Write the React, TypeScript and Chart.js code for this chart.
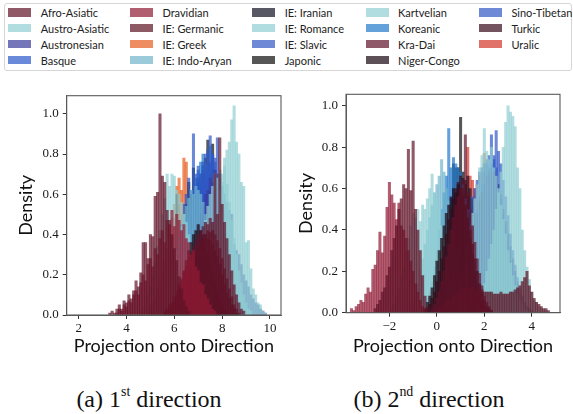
import React, { useEffect, useRef } from 'react';
import { Chart, registerables } from 'chart.js';

Chart.register(...registerables);

// ---------------- DATA ----------------
const FAMILIES = [
  'Afro-Asiatic', 'Austro-Asiatic', 'Austronesian', 'Basque', 'Dravidian',
  'IE: Germanic', 'IE: Greek', 'IE: Indo-Aryan', 'IE: Iranian', 'IE: Romance',
  'IE: Slavic', 'Japonic', 'Kartvelian', 'Koreanic', 'Kra-Dai',
  'Niger-Congo', 'Sino-Tibetan', 'Turkic', 'Uralic',
];

const COLORS = [
  'rgba(95,19,39,0.7)', 'rgba(146,206,211,0.7)', 'rgba(59,59,156,0.7)', 'rgba(42,88,199,0.7)', 'rgba(144,25,52,0.7)',
  'rgba(92,19,36,0.7)', 'rgba(231,92,31,0.7)', 'rgba(112,181,204,0.7)', 'rgba(17,15,34,0.7)', 'rgba(146,206,211,0.7)',
  'rgba(48,88,196,0.7)', 'rgba(14,14,14,0.7)', 'rgba(146,206,211,0.7)', 'rgba(34,121,202,0.7)', 'rgba(96,19,42,0.7)',
  'rgba(25,6,15,0.7)', 'rgba(48,88,196,0.7)', 'rgba(56,12,26,0.7)', 'rgba(211,54,42,0.7)',
];

// layering of the overlapping histograms, bottom to top
const DRAW_ORDER = [
  'Uralic', 'IE: Greek', 'Japonic', 'IE: Iranian', 'Koreanic', 'Basque', 'IE: Slavic', 'Sino-Tibetan',
  'Austronesian', 'IE: Indo-Aryan', 'IE: Romance', 'Austro-Asiatic', 'Kartvelian',
  'Niger-Congo', 'Turkic', 'IE: Germanic', 'Kra-Dai', 'Dravidian', 'Afro-Asiatic',
];

const BIN = 0.1;

// Panel (a): first direction — centre of the first bin per family, in FAMILIES order
const A_STARTS = [3.3, 4.6, 5.8, 5.6, 3.6, 5.6, 5.0, 5.4, 6.0, 6.4, 5.9, 5.5, 7.0, 5.8, 5.6, 5.8, 6.0, 6.0, 4.9];

const A_AFRO_ASIATIC = [.01, .02, .01, .03, .05, .03, .07, .06, .10, .08, .12, .17, .14, .21, .36, .36, .28, .40, .39, .59, .61, 1.0, .69, .66, .52, .47, .40, .33, .27, .19, .13, .07, .04, .02];
const A_AUSTRO_ASIATIC = [.02, .04, .06, .10, .14, .20, .26, .34, .42, .50, .58, .70, .64, .70, .69, .62, .60, .56, .50, .46, .40, .35, .28, .22, .17, .12, .08, .05, .03, .02];
const A_AUSTRONESIAN = [.02, .03, .05, .07, .10, .12, .16, .20, .24, .30, .34, .40, .45, .50, .54, .60, .62, .68, .66, .72, .70, .68, .64, .60, .56, .52, .50, .35, .32, .30, .25, .20, .17, .14, .10, .08, .06, .05, .03, .02, .01];
const A_BASQUE = [.05, .08, .12, .15, .22, .30, .38, .45, .55, .60, .68, .62, .90, .70, .74, .68, .72, .65, .60, .52, .45, .38, .30, .22, .16, .10, .06, .03, .02];
const A_DRAVIDIAN = [.01, .03, .02, .05, .04, .07, .06, .10, .12, .10, .16, .20, .17, .25, .28, .24, .33, .30, .38, .42, .36, .47, .45, .52, .44, .50, .47, .42, .45, .38, .36, .30, .32, .24, .22, .16, .15, .10, .08, .05, .03, .02];
const A_GERMANIC = [.01, .02, .03, .05, .07, .09, .12, .15, .18, .21, .24, .27, .30, .32, .34, .37, .38, .40, .42, .41, .42, .40, .37, .33, .28, .23, .18, .13, .09, .05, .03, .01];
const A_GREEK = [.02, .04, .06, .10, .14, .20, .26, .33, .42, .48, .55, .64, .68, .62, .78, .76, .62, .55, .48, .40, .34, .26, .20, .14, .09, .05, .02];
const A_INDO_ARYAN = [.02, .04, .07, .10, .15, .20, .26, .32, .38, .44, .50, .54, .58, .62, .60, .64, .62, .60, .56, .50, .44, .38, .32, .26, .20, .14, .10, .06, .04, .02];
const A_IRANIAN = [.05, .08, .12, .18, .25, .32, .40, .48, .55, .60, .66, .70, .74, .78, .87, .75, .72, .65, .56, .46, .36, .26, .17, .10, .05, .02];
const A_ROMANCE = [.02, .04, .07, .10, .15, .20, .26, .33, .40, .47, .54, .60, .64, .70, .68, .72, .66, .74, .65, .56, .47, .38, .30, .22, .16, .10, .06, .03, .02];
const A_SLAVIC = [.02, .04, .07, .10, .15, .20, .27, .34, .42, .50, .58, .64, .70, .76, .80, .82, .89, .80, .76, .70, .62, .52, .42, .33, .24, .16, .10, .06, .03, .01];
const A_JAPONIC = [.02, .05, .08, .12, .20, .30, .60, .38, .45, .50, .55, .66, .60, .73, .64, .68, .66, .70, .64, .60, .70, .85, .55, .45, .36, .27, .18, .10, .05, .02];
const A_KARTVELIAN = [.02, .04, .07, .10, .15, .22, .30, .40, .50, .62, .70, .78, .82, .86, .97, 1.04, .86, .80, .66, .64, .36, .37, .23, .13, .10, .06, .05, .02, .01];
const A_KOREANIC = [.02, .04, .08, .12, .18, .25, .32, .40, .48, .55, .62, .68, .72, .76, .80, .75, .72, .84, .66, .58, .48, .38, .28, .20, .13, .08, .04, .02];
const A_KRA_DAI = [.02, .03, .05, .06, .09, .12, .15, .18, .21, .24, .28, .31, .34, .37, .40, .42, .44, .46, .45, .48, .46, .70, .50, .88, .55, .46, .38, .30, .22, .15, .10, .06, .03, .02];
const A_NIGER_CONGO = [.02, .04, .06, .09, .13, .17, .22, .27, .32, .36, .40, .42, .45, .42, .40, .36, .31, .26, .21, .16, .12, .08, .05, .03, .01];
const A_SINO_TIBETAN = [.02, .04, .06, .10, .14, .19, .25, .32, .40, .47, .54, .60, .66, .70, .74, .76, .80, .78, .88, .70, .62, .52, .42, .32, .24, .16, .10, .06, .03, .01];
const A_TURKIC = [.02, .04, .06, .09, .12, .15, .19, .23, .27, .30, .33, .36, .38, .40, .38, .37, .35, .32, .29, .25, .20, .15, .11, .08, .05, .03, .01];
const A_URALIC = [.02, .04, .06, .09, .13, .17, .22, .27, .33, .38, .44, .48, .52, .55, .50, .46, .42, .37, .32, .27, .22, .17, .13, .09, .06, .04, .02];

// Panel (b): second direction
const B_STARTS = [-2.6, -1.9, 0.6, 0.8, -3.6, 0.0, 0.6, -1.2, 0.0, 0.6, 1.0, -0.1, 1.6, -0.6, -0.2, -0.5, 0.4, -0.4, 0.3];

const B_AFRO_ASIATIC = [.02, .04, .06, .10, .12, .18, .22, .30, .36, .42, .50, .55, .62, .60, .79, .59, .83, .50, .40, .30, .18, .08, .03];
const B_AUSTRO_ASIATIC = [.02, .04, .08, .12, .18, .22, .30, .36, .42, .48, .46, .50, .44, .52, .50, .55, .60, .67, .58, .55, .50, .42, .35, .28, .20, .14, .09, .05, .03, .01];
const B_AUSTRONESIAN = [.02, .04, .06, .09, .12, .16, .20, .25, .30, .36, .42, .48, .54, .58, .62, .66, .68, .70, .68, .66, .62, .57, .50, .44, .38, .32, .26, .20, .15, .11, .08, .05, .03, .02, .01];
const B_BASQUE = [.02, .04, .07, .10, .15, .20, .27, .34, .42, .50, .56, .62, .68, .72, .76, .86, .74, .70, .62, .55, .47, .40, .32, .25, .19, .14, .10, .07, .05, .03, .02, .01];
const B_DRAVIDIAN = [.02, .01, .03, .04, .06, .05, .09, .12, .10, .21, .23, .30, .39, .29, .37, .51, .63, .57, .53, .45, .53, .42, .40, .36, .30, .25, .20, .14, .10, .06, .03, .01];
const B_GERMANIC = [.01, .02, .03, .04, .05, .06, .07, .08, .09, .10, .11, .12, .12, .12, .12, .12, .12, .11, .11, .11, .10, .10, .10, .10, .09, .09, .09, .10, .09, .09, .09, .10, .10, .11, .12, .13, .15, .17, .20, .13, .10, .07, .05, .04, .03, .02, .02, .01];
const B_GREEK = [.02, .04, .07, .10, .15, .20, .30, .38, .46, .52, .58, .62, .66, .68, .77, .60, .55, .48, .40, .32, .25, .18, .12, .08, .05, .03, .01];
const B_INDO_ARYAN = [.02, .04, .06, .10, .14, .20, .26, .33, .40, .46, .52, .58, .62, .66, .74, .68, .60, .54, .46, .38, .30, .22, .16, .10, .06, .03, .01];
const B_IRANIAN = [.03, .06, .10, .15, .22, .30, .38, .45, .52, .58, .60, .65, .62, .66, .60, .55, .48, .40, .33, .26, .20, .14, .09, .05, .03, .01];
const B_ROMANCE = [.02, .04, .06, .10, .14, .20, .26, .33, .40, .48, .55, .62, .70, .76, .89, .78, .74, .80, .70, .66, .60, .52, .45, .38, .30, .24, .18, .13, .09, .06, .04, .02, .01];
const B_SLAVIC = [.02, .04, .07, .10, .15, .20, .26, .33, .40, .48, .55, .60, .66, .72, .76, .88, .78, .72, .64, .56, .47, .38, .30, .23, .17, .12, .08, .05, .03, .02, .01];
const B_JAPONIC = [.02, .05, .10, .16, .24, .32, .42, .55, .72, .70, .70, .945, .68, .64, .56, .48, .38, .30, .22, .15, .10, .06, .03, .01];
const B_KARTVELIAN = [.02, .04, .06, .10, .14, .20, .26, .33, .40, .50, .58, .68, .80, .92, 1.0, .97, .95, .90, .70, .60, .40, .30, .22, .16, .10, .06, .05, .03, .02, .01, .01];
const B_KOREANIC = [.02, .04, .07, .10, .15, .22, .30, .40, .50, .58, .66, .89, .70, .75, .72, .70, .68, .62, .55, .50, .42, .36, .30, .24, .18, .13, .09, .06, .04, .02];
const B_KRA_DAI = [.02, .04, .07, .10, .15, .20, .27, .33, .40, .46, .52, .56, .60, .64, .86, .58, .50, .42, .34, .26, .19, .13, .08, .05, .03, .01];
const B_NIGER_CONGO = [.02, .05, .08, .12, .18, .25, .30, .36, .42, .48, .52, .56, .60, .58, .62, .60, .57, .52, .46, .40, .33, .26, .20, .14, .10, .06, .03, .02, .01];
const B_SINO_TIBETAN = [.02, .04, .07, .10, .15, .20, .26, .32, .38, .44, .50, .56, .60, .64, .68, .70, .72, .74, .70, .68, .64, .58, .52, .45, .38, .31, .25, .19, .14, .10, .07, .04, .02, .01];
const B_TURKIC = [.02, .04, .07, .10, .15, .20, .26, .32, .38, .45, .50, .55, .60, .63, .66, .60, .52, .44, .36, .28, .20, .14, .09, .05, .03, .01];
const B_URALIC = [.02, .04, .07, .10, .15, .22, .30, .40, .50, .62, .80, .66, .64, .60, .54, .46, .40, .32, .25, .18, .12, .08, .05, .03, .01];

const A_SERIES = [A_AFRO_ASIATIC, A_AUSTRO_ASIATIC, A_AUSTRONESIAN, A_BASQUE, A_DRAVIDIAN, A_GERMANIC, A_GREEK, A_INDO_ARYAN, A_IRANIAN, A_ROMANCE, A_SLAVIC, A_JAPONIC, A_KARTVELIAN, A_KOREANIC, A_KRA_DAI, A_NIGER_CONGO, A_SINO_TIBETAN, A_TURKIC, A_URALIC];
const B_SERIES = [B_AFRO_ASIATIC, B_AUSTRO_ASIATIC, B_AUSTRONESIAN, B_BASQUE, B_DRAVIDIAN, B_GERMANIC, B_GREEK, B_INDO_ARYAN, B_IRANIAN, B_ROMANCE, B_SLAVIC, B_JAPONIC, B_KARTVELIAN, B_KOREANIC, B_KRA_DAI, B_NIGER_CONGO, B_SINO_TIBETAN, B_TURKIC, B_URALIC];

const A_X_TICKS = [2, 4, 6, 8, 10];
const A_X_LABELS = ['2', '4', '6', '8', '10'];
const B_X_TICKS = [-2, 0, 2, 4];
const B_X_LABELS = ['\u22122', '0', '2', '4'];
const Y_TICKS = [0, 0.2, 0.4, 0.6, 0.8, 1.0];
const Y_LABELS = ['0.0', '0.2', '0.4', '0.6', '0.8', '1.0'];

const X_TITLE = 'Projection onto Direction';
const Y_TITLE = 'Density';

// ---------------- CHART ----------------
const framePlugin = {
  id: 'frame',
  afterDatasetsDraw(chart: any) {
    const { ctx, chartArea: a } = chart;
    ctx.save();
    ctx.strokeStyle = '#5a5a5a';
    ctx.lineWidth = 1.1;
    ctx.strokeRect(a.left, a.top, a.right - a.left, a.bottom - a.top);
    ctx.restore();
  },
};

type PanelProps = {
  starts: number[];
  series: number[][];
  xMin: number;
  xMax: number;
  yMax: number;
  xTicks: number[];
  xLabels: string[];
  left: number;
  width: number;
  padTop: number;
  padRight: number;
  yAxisW: number;
  xAxisH: number;
};

function HistPanel(p: PanelProps) {
  const ref = useRef<HTMLCanvasElement>(null);
  useEffect(() => {
    if (!ref.current) return;
    const datasets = FAMILIES.map((name, i) => ({
      label: name,
      data: p.series[i].map((y, j) => ({ x: Math.round((p.starts[i] + j * BIN) * 100) / 100, y })),
      backgroundColor: COLORS[i],
      borderWidth: 0,
      grouped: false,
      categoryPercentage: 1,
      barPercentage: 1,
      order: -DRAW_ORDER.indexOf(name),
    }));
    const tickFont = { family: '"Liberation Serif", serif', size: 13 };
    const titleFont = { family: 'Lato, sans-serif', size: 18 };
    const chart = new Chart(ref.current, {
      type: 'bar',
      data: { datasets } as any,
      options: {
        responsive: false,
        animation: false,
        layout: { padding: { left: 0, top: p.padTop, right: p.padRight, bottom: 0 } },
        plugins: { legend: { display: false }, tooltip: { enabled: false } },
        scales: {
          x: {
            type: 'linear',
            min: p.xMin,
            max: p.xMax,
            offset: false,
            afterBuildTicks: (s: any) => { s.ticks = p.xTicks.map((v) => ({ value: v })); },
            afterFit: (s: any) => { s.height = p.xAxisH; },
            ticks: {
              font: tickFont, color: '#1a1a1a', padding: 2, autoSkip: false, maxRotation: 0,
              callback: (v: any) => { const k = p.xTicks.indexOf(Number(v)); return k >= 0 ? p.xLabels[k] : ''; },
            },
            grid: { display: true, drawOnChartArea: false, drawTicks: true, tickLength: 4, color: '#333', offset: false },
            border: { display: true, color: '#5a5a5a', width: 1 },
            title: { display: true, text: X_TITLE, font: titleFont, color: '#111', padding: { top: 0, bottom: 13.5 } },
          },
          y: {
            type: 'linear',
            min: 0,
            max: p.yMax,
            afterBuildTicks: (s: any) => { s.ticks = Y_TICKS.map((v) => ({ value: v })); },
            afterFit: (s: any) => { s.width = p.yAxisW; },
            ticks: {
              font: tickFont, color: '#1a1a1a', padding: 4, autoSkip: false,
              callback: (v: any) => { const k = Y_TICKS.findIndex((t) => Math.abs(t - Number(v)) < 1e-6); return k >= 0 ? Y_LABELS[k] : ''; },
            },
            grid: { display: true, drawOnChartArea: false, drawTicks: true, tickLength: 4, color: '#333' },
            border: { display: true, color: '#5a5a5a', width: 1 },
            title: { display: true, text: Y_TITLE, font: titleFont, color: '#111', padding: { top: 15, bottom: 0 } },
          },
        },
      } as any,
      plugins: [framePlugin],
    });
    return () => chart.destroy();
  }, []);
  return (
    <canvas
      ref={ref}
      width={p.width}
      height={290}
      style={{ position: 'absolute', left: p.left, top: 80, width: p.width, height: 290 }}
    />
  );
}

const LEGEND_COL_X = [8.3, 130, 252.3, 365.7, 479];
const LEGEND_ROW_Y = [12.5, 28.3, 44.2, 60.2];

function Legend() {
  return (
    <div style={{ position: 'absolute', left: 0, top: 0, width: 573, height: 75 }}>
      <div style={{ position: 'absolute', left: 4, top: 3, width: 568, height: 68, border: '1px solid #d6d6d6', borderRadius: 3, boxSizing: 'border-box', background: '#fff' }} />
      {FAMILIES.map((name, i) => {
        const col = Math.floor(i / 4);
        const row = i % 4;
        const x = LEGEND_COL_X[col];
        const y = LEGEND_ROW_Y[row];
        return (
          <React.Fragment key={name}>
            <div style={{ position: 'absolute', left: x, top: y - 4.2, width: 23, height: 8.4, background: COLORS[i] }} />
            <div style={{ position: 'absolute', left: x + 32.4, top: y - 7.5, height: 15, lineHeight: '15px', fontFamily: 'Lato, sans-serif', fontSize: 11, color: '#222', whiteSpace: 'nowrap' }}>{name}</div>
          </React.Fragment>
        );
      })}
    </div>
  );
}

function Caption({ center, label, num, sup }: { center: number; label: string; num: string; sup: string }) {
  return (
    <div style={{ position: 'absolute', left: center - 150, width: 300, top: 386.6, textAlign: 'center', fontFamily: '"Liberation Serif", "Times New Roman", serif', fontSize: 24, lineHeight: '24px', color: '#111', whiteSpace: 'nowrap' }}>
      {label} {num}<span style={{ fontSize: '0.58em', position: 'relative', top: '-0.75em' }}>{sup}</span> direction
    </div>
  );
}

export default function App() {
  return (
    <div style={{ position: 'absolute', left: 0, top: 0, width: 573, height: 414, background: '#fff', overflow: 'hidden' }}>
      <Legend />
      <HistPanel starts={A_STARTS} series={A_SERIES} xMin={1.5} xMax={10.46} yMax={1.09}
        xTicks={A_X_TICKS} xLabels={A_X_LABELS} left={0} width={290} padTop={15.7} padRight={9} yAxisW={66.7} xAxisH={55} />
      <HistPanel starts={B_STARTS} series={B_SERIES} xMin={-3.83} xMax={5.19} yMax={1.056}
        xTicks={B_X_TICKS} xLabels={B_X_LABELS} left={280} width={293} padTop={14.3} padRight={13} yAxisW={66} xAxisH={57.3} />
      <Caption center={149} label="(a)" num="1" sup="st" />
      <Caption center={429} label="(b)" num="2" sup="nd" />
    </div>
  );
}
